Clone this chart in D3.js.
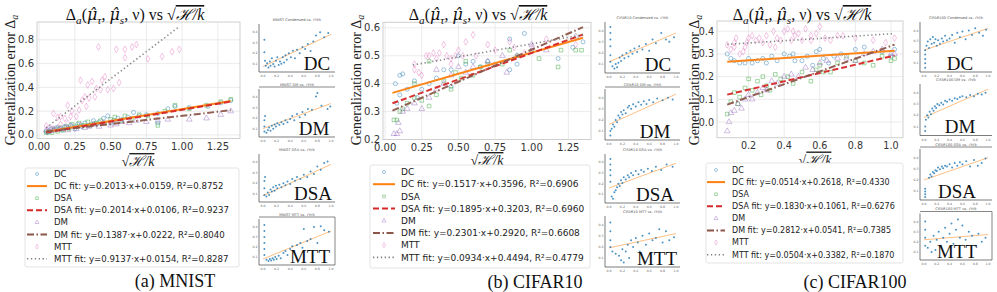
<!DOCTYPE html>
<html><head><meta charset="utf-8">
<script src="https://cdn.jsdelivr.net/npm/d3@7"></script>
<style>body{margin:0;background:#fff}</style>
</head><body><svg id="c" width="997" height="292"></svg>
<script>
// ---------------- DATA ----------------
const seriesNames = ["DC","DSA","DM","MTT"];

// (a) MNIST
const mnistDC = [[0.05,0.03],[0.06,0.02],[0.08,0.05],[0.1,0.04],[0.12,0.06],[0.14,0.05],[0.16,0.04],[0.18,0.07],[0.2,0.06],[0.22,0.08],[0.25,0.05],[0.27,0.09],[0.3,0.07],[0.32,0.1],[0.35,0.08],[0.38,0.12],[0.4,0.09],[0.42,0.11],[0.45,0.14],[0.48,0.16],[0.5,0.1],[0.52,0.12],[0.55,0.14],[0.58,0.13],[0.62,0.15],[0.66,0.19],[0.7,0.16],[0.75,0.17],[0.83,0.1],[0.83,0.18],[0.9,0.22],[0.95,0.24],[1.05,0.23],[1.18,0.24],[1.27,0.27],[1.34,0.29]];
const mnistDSA = [[0.05,0.02],[0.07,0.03],[0.09,0.02],[0.11,0.05],[0.13,0.03],[0.15,0.06],[0.17,0.04],[0.19,0.07],[0.21,0.05],[0.23,0.09],[0.26,0.07],[0.28,0.1],[0.31,0.08],[0.34,0.11],[0.37,0.09],[0.4,0.1],[0.43,0.12],[0.46,0.1],[0.5,0.13],[0.53,0.15],[0.57,0.12],[0.6,0.16],[0.65,0.14],[0.7,0.17],[0.76,0.16],[0.83,0.08],[0.88,0.2],[0.95,0.25],[1.05,0.22],[1.17,0.25],[1.27,0.28],[1.34,0.3]];
const mnistDM = [[0.05,0.04],[0.07,0.03],[0.09,0.05],[0.11,0.04],[0.13,0.06],[0.15,0.05],[0.18,0.06],[0.2,0.04],[0.23,0.07],[0.26,0.05],[0.29,0.08],[0.32,0.06],[0.35,0.07],[0.38,0.09],[0.42,0.07],[0.45,0.1],[0.5,0.08],[0.54,0.09],[0.58,0.11],[0.63,0.1],[0.68,0.12],[0.75,0.11],[0.83,0.12],[0.9,0.13],[1.05,0.13],[1.17,0.14],[1.27,0.17],[1.34,0.2]];
const mnistMTT = [[0.05,0.076],[0.07,0.056],[0.1,0.18],[0.1,0.05],[0.13,0.15],[0.15,0.09],[0.15,0.155],[0.18,0.14],[0.2,0.25],[0.2,0.1],[0.22,0.155],[0.23,0.2],[0.26,0.155],[0.28,0.21],[0.29,0.46],[0.3,0.29],[0.32,0.32],[0.33,0.24],[0.34,0.42],[0.35,0.31],[0.37,0.45],[0.39,0.32],[0.4,0.39],[0.415,0.74],[0.43,0.38],[0.44,0.46],[0.46,0.49],[0.48,0.38],[0.52,0.39],[0.54,0.72],[0.56,0.44],[0.6,0.72],[0.6,0.65],[0.65,0.74],[0.68,0.76],[0.76,0.64],[0.86,0.66],[0.93,0.7],[0.98,0.72]];
const mnistSlope = [0.2013,0.2014,0.1387,0.9137];
const mnistIntercept = [0.0159,0.0106,0.0222,0.0154];
const mnistR2 = [0.8752,0.9237,0.8040,0.8287];
const mnistFitRange = [[0.05,1.34],[0.05,1.34],[0.05,1.34],[0.05,0.98]];
const mnistXTicks = [0.00,0.25,0.50,0.75,1.00,1.25];
const mnistYTicks = [0.0,0.2,0.4,0.6,0.8];

// (b) CIFAR10
const cifar10DC = [[0.07,0.4],[0.08,0.33],[0.1,0.43],[0.1,0.36],[0.12,0.435],[0.15,0.38],[0.2,0.41],[0.22,0.35],[0.25,0.38],[0.3,0.4],[0.35,0.42],[0.4,0.45],[0.45,0.45],[0.45,0.39],[0.5,0.5],[0.55,0.47],[0.6,0.48],[0.65,0.46],[0.7,0.48],[0.75,0.47],[0.85,0.45],[0.85,0.56],[0.9,0.47],[0.95,0.58],[1.0,0.52],[1.18,0.49],[1.28,0.53],[1.35,0.55]];
const cifar10DSA = [[0.06,0.27],[0.08,0.27],[0.1,0.3],[0.12,0.31],[0.15,0.33],[0.2,0.35],[0.2,0.4],[0.25,0.34],[0.3,0.32],[0.3,0.48],[0.35,0.36],[0.4,0.41],[0.45,0.38],[0.48,0.44],[0.52,0.42],[0.55,0.48],[0.6,0.43],[0.65,0.46],[0.7,0.47],[0.8,0.47],[0.85,0.52],[0.9,0.5],[1.05,0.49],[1.18,0.46],[1.2,0.52],[1.3,0.52],[1.34,0.52]];
const cifar10DM = [[0.06,0.22],[0.08,0.22],[0.1,0.23],[0.09,0.26],[0.12,0.3],[0.15,0.31],[0.2,0.33],[0.25,0.31],[0.3,0.35],[0.35,0.38],[0.35,0.45],[0.4,0.4],[0.45,0.43],[0.5,0.46],[0.55,0.44],[0.6,0.46],[0.7,0.48],[0.8,0.5],[0.83,0.44],[0.9,0.5],[1.0,0.54],[1.1,0.52],[1.3,0.57]];
const cifar10MTT = [[0.2,0.45],[0.2,0.47],[0.23,0.44],[0.25,0.43],[0.28,0.5],[0.3,0.5],[0.33,0.51],[0.35,0.49],[0.37,0.51],[0.4,0.54],[0.42,0.5],[0.45,0.47],[0.45,0.49],[0.48,0.5],[0.5,0.52],[0.53,0.5],[0.55,0.55],[0.6,0.575],[0.62,0.5],[0.7,0.54],[0.75,0.52],[0.85,0.55],[0.88,0.53],[0.95,0.51],[1.0,0.53],[1.1,0.56],[1.3,0.54]];
const cifar10Slope = [0.1517,0.1895,0.2301,0.0934];
const cifar10Intercept = [0.3596,0.3203,0.2920,0.4494];
const cifar10R2 = [0.6906,0.6960,0.6608,0.4779];
const cifar10FitRange = [[0.05,1.35],[0.05,1.35],[0.05,1.35],[0.19,1.35]];
const cifar10XTicks = [0.00,0.25,0.50,0.75,1.00,1.25];
const cifar10YTicks = [0.2,0.3,0.4,0.5,0.6];

// (c) CIFAR100
const cifar100DC = [[0.08,0.3],[0.1,0.28],[0.12,0.27],[0.15,0.26],[0.18,0.26],[0.2,0.28],[0.22,0.26],[0.25,0.27],[0.28,0.28],[0.3,0.26],[0.33,0.29],[0.36,0.27],[0.4,0.3],[0.43,0.29],[0.45,0.3],[0.46,0.27],[0.5,0.27],[0.53,0.29],[0.56,0.25],[0.58,0.31],[0.6,0.32],[0.62,0.28],[0.65,0.26],[0.68,0.29],[0.72,0.3],[0.8,0.32],[0.85,0.33],[0.95,0.31],[1.0,0.29],[1.02,0.32]];
const cifar100DSA = [[0.08,0.035],[0.1,0.09],[0.12,0.13],[0.14,0.08],[0.15,0.11],[0.18,0.15],[0.2,0.19],[0.22,0.14],[0.25,0.18],[0.27,0.12],[0.28,0.2],[0.3,0.16],[0.32,0.14],[0.35,0.21],[0.38,0.19],[0.42,0.2],[0.45,0.17],[0.5,0.22],[0.55,0.18],[0.58,0.23],[0.6,0.25],[0.62,0.22],[0.66,0.22],[0.7,0.26],[0.75,0.29],[0.8,0.27],[0.85,0.26],[0.9,0.25],[0.95,0.29],[1.0,0.27],[1.02,0.28]];
const cifar100DM = [[0.08,-0.04],[0.09,0.0],[0.1,0.04],[0.12,0.05],[0.14,0.08],[0.16,0.06],[0.18,0.1],[0.2,0.12],[0.22,0.1],[0.25,0.13],[0.28,0.15],[0.3,0.14],[0.33,0.18],[0.36,0.17],[0.4,0.2],[0.44,0.21],[0.48,0.2],[0.52,0.24],[0.56,0.23],[0.6,0.26],[0.64,0.27],[0.7,0.28],[0.75,0.28],[0.8,0.27],[0.85,0.3],[0.9,0.31],[0.95,0.32],[1.0,0.3],[1.02,0.3]];
const cifar100MTT = [[0.08,0.34],[0.1,0.32],[0.12,0.33],[0.12,0.35],[0.13,0.37],[0.15,0.3],[0.17,0.31],[0.18,0.33],[0.19,0.35],[0.2,0.37],[0.22,0.38],[0.24,0.36],[0.26,0.37],[0.28,0.35],[0.3,0.38],[0.32,0.34],[0.34,0.4],[0.35,0.33],[0.36,0.37],[0.38,0.36],[0.4,0.4],[0.42,0.41],[0.44,0.36],[0.45,0.4],[0.46,0.38],[0.48,0.39],[0.5,0.36],[0.52,0.41],[0.55,0.38],[0.55,0.36],[0.58,0.39],[0.6,0.42],[0.63,0.37],[0.66,0.36],[0.7,0.38],[0.73,0.38],[0.8,0.37],[0.9,0.36],[0.97,0.35],[1.02,0.37]];
const cifar100Slope = [0.0514,0.1830,0.2812,0.0504];
const cifar100Intercept = [0.2618,0.1061,0.0541,0.3382];
const cifar100R2 = [0.4330,0.6276,0.7385,0.1870];
const cifar100FitRange = [[0.08,1.02],[0.08,1.02],[0.08,1.02],[0.08,1.02]];
const cifar100XTicks = [0.2,0.4,0.6,0.8,1.0];
const cifar100YTicks = [0.0,0.1,0.2,0.3,0.4];

// small side plots (normalised values), with fitted-line end values
const sideLabels = ["DC","DM","DSA","MTT"];
const sideTitles = ["Condensed vs. \u221AH/k","DM vs. \u221AH/k","DSA vs. \u221AH/k","MTT vs. \u221AH/k"];
const aSideDC = [[0.02,0.72],[0.02,0.42],[0.03,0.22],[0.04,0.1],[0.06,0.16],[0.08,0.06],[0.1,0.2],[0.11,0.1],[0.13,0.28],[0.15,0.14],[0.17,0.08],[0.19,0.22],[0.21,0.3],[0.23,0.12],[0.25,0.2],[0.27,0.15],[0.29,0.3],[0.31,0.18],[0.33,0.35],[0.35,0.24],[0.38,0.4],[0.41,0.3],[0.44,0.46],[0.47,0.28],[0.5,0.48],[0.54,0.4],[0.58,0.55],[0.62,0.5],[0.66,0.62],[0.7,0.45],[0.74,0.68],[0.78,0.82],[0.84,0.9],[0.9,0.78],[0.96,0.88]];
const aSideDM = [[0.02,0.08],[0.02,0.2],[0.02,0.35],[0.03,0.45],[0.05,0.05],[0.07,0.12],[0.09,0.18],[0.11,0.1],[0.13,0.22],[0.15,0.15],[0.17,0.25],[0.19,0.2],[0.21,0.28],[0.24,0.24],[0.27,0.3],[0.3,0.26],[0.33,0.35],[0.36,0.3],[0.4,0.38],[0.43,0.45],[0.46,0.35],[0.5,0.5],[0.54,0.42],[0.58,0.55],[0.62,0.48],[0.66,0.62],[0.72,0.6],[0.78,0.92],[0.8,1.0],[0.86,0.7],[0.95,0.62],[0.99,0.68]];
const aSideDSA = [[0.02,0.12],[0.02,0.28],[0.02,0.45],[0.03,0.55],[0.05,0.08],[0.07,0.18],[0.09,0.12],[0.11,0.25],[0.13,0.2],[0.15,0.3],[0.17,0.22],[0.19,0.34],[0.21,0.28],[0.24,0.36],[0.27,0.3],[0.3,0.4],[0.33,0.35],[0.36,0.44],[0.4,0.38],[0.43,0.5],[0.47,0.46],[0.5,0.55],[0.55,0.5],[0.6,0.6],[0.65,0.55],[0.7,0.68],[0.75,0.62],[0.8,0.8],[0.85,0.72],[0.9,0.88],[0.95,0.92]];
const aSideMTT = [[0.02,0.95],[0.02,0.8],[0.02,0.65],[0.02,0.5],[0.02,0.35],[0.02,0.2],[0.05,0.08],[0.08,0.05],[0.1,0.1],[0.12,0.06],[0.14,0.12],[0.16,0.08],[0.18,0.15],[0.2,0.1],[0.23,0.18],[0.26,0.12],[0.3,0.25],[0.33,0.3],[0.36,0.2],[0.4,0.35],[0.43,0.42],[0.46,0.3],[0.5,0.45],[0.55,0.5],[0.58,0.38],[0.6,0.85],[0.65,0.55],[0.7,0.6],[0.75,0.9],[0.8,0.5],[0.85,0.92],[0.9,0.82],[0.97,0.78]];
const bSideDC = [[0.02,0.98],[0.02,0.85],[0.02,0.7],[0.02,0.55],[0.02,0.35],[0.02,0.2],[0.05,0.1],[0.08,0.05],[0.1,0.15],[0.12,0.08],[0.14,0.18],[0.16,0.3],[0.18,0.22],[0.2,0.35],[0.23,0.28],[0.26,0.4],[0.29,0.32],[0.32,0.45],[0.35,0.38],[0.38,0.5],[0.42,0.42],[0.45,0.55],[0.5,0.48],[0.55,0.6],[0.6,0.45],[0.65,0.7],[0.7,0.62],[0.78,0.85],[0.85,0.7],[0.9,0.65],[0.97,0.75]];
const bSideDM = [[0.02,0.05],[0.02,0.15],[0.04,0.2],[0.06,0.3],[0.08,0.25],[0.1,0.4],[0.12,0.35],[0.14,0.5],[0.16,0.45],[0.18,0.58],[0.2,0.52],[0.22,0.62],[0.25,0.55],[0.28,0.68],[0.3,0.72],[0.33,0.65],[0.36,0.75],[0.4,0.7],[0.44,0.8],[0.48,0.74],[0.52,0.82],[0.56,0.76],[0.6,0.85],[0.66,0.8],[0.72,0.88],[0.8,0.84],[0.88,0.9],[0.95,0.86]];
const bSideDSA = [[0.02,0.98],[0.02,0.85],[0.02,0.72],[0.02,0.6],[0.02,0.45],[0.04,0.1],[0.06,0.05],[0.08,0.2],[0.1,0.25],[0.12,0.32],[0.14,0.4],[0.16,0.35],[0.18,0.48],[0.2,0.42],[0.22,0.55],[0.25,0.5],[0.28,0.6],[0.3,0.55],[0.33,0.65],[0.36,0.6],[0.4,0.7],[0.44,0.62],[0.48,0.72],[0.52,0.68],[0.58,0.75],[0.64,0.7],[0.7,0.8],[0.78,0.72],[0.86,0.85],[0.95,0.8]];
const bSideMTT = [[0.02,0.95],[0.02,0.75],[0.02,0.55],[0.02,0.4],[0.05,0.3],[0.1,0.25],[0.15,0.2],[0.18,0.1],[0.2,0.35],[0.22,0.05],[0.25,0.3],[0.28,0.45],[0.3,0.15],[0.33,0.55],[0.36,0.4],[0.4,0.6],[0.43,0.5],[0.46,0.3],[0.5,0.65],[0.55,0.45],[0.6,0.7],[0.65,0.55],[0.7,0.6],[0.75,0.8],[0.8,0.5],[0.85,0.75],[0.9,0.55],[0.97,0.62]];
const cSideDC = [[0.02,0.05],[0.02,0.15],[0.02,0.25],[0.02,0.35],[0.02,0.45],[0.04,0.55],[0.06,0.65],[0.08,0.5],[0.1,0.7],[0.12,0.6],[0.14,0.75],[0.16,0.62],[0.18,0.7],[0.2,0.55],[0.22,0.68],[0.25,0.6],[0.28,0.72],[0.3,0.65],[0.33,0.78],[0.36,0.68],[0.4,0.72],[0.44,0.8],[0.48,0.62],[0.52,0.85],[0.56,0.75],[0.6,0.88],[0.65,0.7],[0.7,0.9],[0.75,0.8],[0.8,0.95],[0.86,0.85],[0.92,0.78],[0.97,0.92]];
const cSideDM = [[0.02,0.05],[0.02,0.15],[0.03,0.3],[0.05,0.4],[0.07,0.35],[0.09,0.48],[0.11,0.42],[0.13,0.55],[0.15,0.5],[0.17,0.6],[0.19,0.56],[0.21,0.65],[0.24,0.62],[0.27,0.68],[0.3,0.64],[0.33,0.72],[0.36,0.7],[0.4,0.75],[0.44,0.72],[0.48,0.78],[0.52,0.76],[0.56,0.8],[0.6,0.82],[0.66,0.8],[0.72,0.85],[0.78,0.82],[0.84,0.88],[0.9,0.86],[0.96,0.9]];
const cSideDSA = [[0.02,0.02],[0.02,0.08],[0.02,0.14],[0.02,0.2],[0.08,0.45],[0.1,0.52],[0.12,0.48],[0.14,0.58],[0.16,0.55],[0.18,0.62],[0.2,0.6],[0.22,0.68],[0.25,0.64],[0.28,0.7],[0.3,0.66],[0.33,0.72],[0.36,0.7],[0.4,0.75],[0.44,0.68],[0.48,0.78],[0.52,0.72],[0.56,0.8],[0.6,0.75],[0.66,0.82],[0.72,0.7],[0.78,0.85],[0.84,0.72],[0.9,0.78],[0.96,0.88]];
const cSideMTT = [[0.02,0.9],[0.02,0.7],[0.02,0.5],[0.02,0.3],[0.06,0.25],[0.1,0.4],[0.12,0.15],[0.15,0.55],[0.18,0.2],[0.2,0.45],[0.23,0.65],[0.26,0.3],[0.3,0.5],[0.33,0.75],[0.36,0.4],[0.4,0.6],[0.43,0.85],[0.46,0.35],[0.5,0.7],[0.53,0.95],[0.56,0.5],[0.6,0.8],[0.65,0.45],[0.7,0.65],[0.75,0.55],[0.8,0.3],[0.85,0.6],[0.9,0.4],[0.96,0.5]];
const aSideLine = [[0.08,0.85],[0.15,0.75],[0.1,0.85],[0.1,0.8]];
const bSideLine = [[0.2,0.85],[0.3,0.98],[0.3,0.88],[0.38,0.7]];
const cSideLine = [[0.45,0.95],[0.35,0.98],[0.4,0.9],[0.45,0.58]];
const sideXTicks = ["0.0","0.2","0.4","0.6","0.8","1.0"];
const sideYTicks = ["0.1","0.2","0.3","0.4"];

// ---------------- STYLE / LAYOUT ----------------
const serif = "'Liberation Serif','DejaVu Serif',serif";
const sans = "'DejaVu Sans',sans-serif";
const markerColors = ["#1f77b4","#2ca02c","#9467bd","#e377c2"];
const fitColors = ["#ff7f0e","#d62728","#8c564b","#7f7f7f"];
const fitDash = [null,"6,3","7,2.5,1.5,2.5","1.3,2.6"];
const fitWidth = [2,2,2,1.6];
const symbols = [d3.symbolCircle,d3.symbolSquare,d3.symbolTriangle,d3.symbolDiamond];

const svg = d3.select("#c");
svg.append("rect").attr("width",997).attr("height",292).attr("fill","#fff");

const panels = [
  {data:[mnistDC,mnistDSA,mnistDM,mnistMTT], slope:mnistSlope, icpt:mnistIntercept, r2:mnistR2, fr:mnistFitRange,
   xt:mnistXTicks, yt:mnistYTicks, xf:d3.format(".2f"), yf:d3.format(".1f"),
   xDom:[-0.0145,1.4045], yDom:[-0.03,0.95], L:37, R:240, T:22, B:138.5, tick:10,
   title:[135,20], ylab:[11,80], xlab:[138,166],
   leg:{x0:25,x1:239,y0:168,y1:267,h0:27,h1:47,tx:54,r0:174,step:12.1,fs:8.6},
   caption:["(a) MNIST",175,287],
   side:{x0:259,x1:335, rows:[[22,72,317,"lb"],[87,137,314,"lbt"],[152,202,313,"lb"],[217,265,310,"full"]],
         data:[aSideDC,aSideDM,aSideDSA,aSideMTT], line:aSideLine, name:"MNIST"}},
  {data:[cifar10DC,cifar10DSA,cifar10DM,cifar10MTT], slope:cifar10Slope, icpt:cifar10Intercept, r2:cifar10R2, fr:cifar10FitRange,
   xt:cifar10XTicks, yt:cifar10YTicks, xf:d3.format(".2f"), yf:d3.format(".1f"),
   xDom:[-0.0145,1.4045], yDom:[0.2,0.62], L:383, R:591, T:22.3, B:139.5, tick:10,
   title:[478,20], ylab:[357,80], xlab:[487,165],
   leg:{x0:370,x1:590,y0:165,y1:268,h0:373,h1:395,tx:401,r0:172,step:12.2,fs:9},
   caption:["(b) CIFAR10",535,288],
   side:{x0:605,x1:680, rows:[[20,73,658,"lb"],[87,140,655,"lbt"],[152,203,655,"lb"],[214,267,657,"lb"]],
         data:[bSideDC,bSideDM,bSideDSA,bSideMTT], line:bSideLine, name:"CIFAR10"}},
  {data:[cifar100DC,cifar100DSA,cifar100DM,cifar100MTT], slope:cifar100Slope, icpt:cifar100Intercept, r2:cifar100R2, fr:cifar100FitRange,
   xt:cifar100XTicks, yt:cifar100YTicks, xf:d3.format(".1f"), yf:d3.format(".1f"),
   xDom:[0.0225,1.0675], yDom:[-0.069,0.445], L:717, R:903, T:21, B:137.7, tick:9.6,
   title:[802,20], ylab:[695,80], xlab:[815,164.5],
   leg:{x0:706,x1:903,y0:163,y1:263,h0:707,h1:725,tx:732,r0:170,step:12.1,fs:8},
   caption:["(c) CIFAR100",855,288],
   side:{x0:920,x1:992, rows:[[20,72,960,"lb"],[82,135.5,960,"lb"],[147,200,957,"lbt"],[211.5,260,957,"full"]],
         data:[cSideDC,cSideDM,cSideDSA,cSideMTT], line:cSideLine, name:"CIFAR100"}}
];

function addRadical(t){
  t.append("tspan").text("\u221A");
  t.append("tspan").attr("font-style","italic").attr("text-decoration","overline").text("\u210B/k");
}
function addMuHat(t){
  t.append("tspan").attr("font-family","'DejaVu Serif',serif").attr("font-style","italic").text("\u03BC\u0302");
}

panels.forEach(p=>{
  const g = svg.append("g");
  const x = d3.scaleLinear().domain(p.xDom).range([p.L,p.R]);
  const y = d3.scaleLinear().domain(p.yDom).range([p.B,p.T]);
  // grid
  g.selectAll(".gx").data(p.xt).join("line").attr("x1",d=>x(d)).attr("x2",d=>x(d)).attr("y1",p.T).attr("y2",p.B)
    .attr("stroke","#e6e6e6").attr("stroke-width",0.8);
  g.selectAll(".gy").data(p.yt).join("line").attr("y1",d=>y(d)).attr("y2",d=>y(d)).attr("x1",p.L).attr("x2",p.R)
    .attr("stroke","#e6e6e6").attr("stroke-width",0.8);
  g.append("rect").attr("x",p.L).attr("y",p.T).attr("width",p.R-p.L).attr("height",p.B-p.T)
    .attr("fill","none").attr("stroke","#cfcfcf").attr("stroke-width",1);
  // tick labels
  g.selectAll(".tx").data(p.xt).join("text").attr("x",d=>x(d)).attr("y",p.B+11.5).attr("text-anchor","middle")
    .attr("font-family",sans).attr("font-size",p.tick).attr("fill","#333").text(p.xf);
  g.selectAll(".ty").data(p.yt).join("text").attr("x",p.L-3).attr("y",d=>y(d)+3.5).attr("text-anchor","end")
    .attr("font-family",sans).attr("font-size",p.tick).attr("fill","#333").text(p.yf);
  // points
  const clip = "clip"+p.L;
  svg.append("clipPath").attr("id",clip).append("rect").attr("x",p.L).attr("y",p.T).attr("width",p.R-p.L).attr("height",p.B-p.T);
  const pg = g.append("g").attr("clip-path",`url(#${clip})`);
  p.data.forEach((arr,i)=>{
    pg.append("g").selectAll("path").data(arr).join("path")
      .attr("transform",d=>`translate(${x(d[0])},${y(d[1])})`)
      .attr("d",d3.symbol().type(symbols[i]).size(i===2?14:13))
      .attr("fill","none").attr("stroke",markerColors[i]).attr("stroke-width",0.8).attr("opacity",0.55);
  });
  // fit lines
  const line = d3.line().x(d=>x(d[0])).y(d=>y(d[1]));
  p.slope.forEach((s,i)=>{
    const pts = p.fr[i].map(v=>[v, s*v+p.icpt[i]]);
    pg.append("path").attr("d",line(pts)).attr("fill","none").attr("stroke",fitColors[i])
      .attr("stroke-width",fitWidth[i]).attr("stroke-dasharray",fitDash[i]).attr("opacity",0.95);
  });
  // title
  const fs=16;
  const t = g.append("text").attr("x",p.title[0]).attr("y",p.title[1]).attr("text-anchor","middle")
    .attr("font-family",serif).attr("font-size",fs).attr("fill","#111");
  t.append("tspan").text("\u0394");
  t.append("tspan").attr("font-style","italic").attr("font-size",fs*0.7).attr("dy",4).text("a");
  t.append("tspan").attr("dy",-4).text("(");
  addMuHat(t);
  t.append("tspan").attr("font-style","italic").attr("font-size",fs*0.7).attr("dy",4).text("\u03C4");
  t.append("tspan").attr("dy",-4).text(", ");
  addMuHat(t);
  t.append("tspan").attr("font-style","italic").attr("font-size",fs*0.7).attr("dy",4).text("s");
  t.append("tspan").attr("dy",-4).text(", \u03BD) vs ");
  addRadical(t);
  // y label
  const yl = g.append("text").attr("transform",`translate(${p.ylab[0]+4},${p.ylab[1]}) rotate(-90)`).attr("text-anchor","middle")
    .attr("font-family",serif).attr("font-size",14).attr("fill","#222");
  yl.append("tspan").text("Generalization error \u0394");
  yl.append("tspan").attr("font-style","italic").attr("font-size",10).attr("dy",3).text("a");
  // x label
  const xl = g.append("text").attr("x",p.xlab[0]).attr("y",p.xlab[1]).attr("text-anchor","middle")
    .attr("font-family",serif).attr("font-size",14).attr("fill","#222");
  addRadical(xl);
  // legend
  const L = p.leg;
  g.append("rect").attr("x",L.x0).attr("y",L.y0).attr("width",L.x1-L.x0).attr("height",L.y1-L.y0).attr("rx",2)
    .attr("fill","#fff").attr("stroke","#dcdcdc").attr("stroke-width",0.8);
  seriesNames.forEach((nm,i)=>{
    const ym = L.r0 + L.step*(2*i), yf = L.r0 + L.step*(2*i+1);
    g.append("path").attr("transform",`translate(${(L.h0+L.h1)/2},${ym})`).attr("d",d3.symbol().type(symbols[i]).size(7))
      .attr("fill","none").attr("stroke",markerColors[i]).attr("stroke-width",0.7).attr("opacity",0.6);
    g.append("text").attr("x",L.tx).attr("y",ym+L.fs*0.36).attr("font-family",sans).attr("font-size",L.fs).attr("fill","#222").text(nm);
    g.append("line").attr("x1",L.h0).attr("x2",L.h1).attr("y1",yf).attr("y2",yf).attr("stroke",fitColors[i])
      .attr("stroke-width",fitWidth[i]).attr("stroke-dasharray",fitDash[i]);
    g.append("text").attr("x",L.tx).attr("y",yf+L.fs*0.36).attr("font-family",sans).attr("font-size",L.fs).attr("fill","#222")
      .text(`${nm} fit: y=${p.slope[i].toFixed(4)}\u00B7x+${p.icpt[i].toFixed(4)}, R\u00B2=${p.r2[i].toFixed(4)}`);
  });
  // caption
  g.append("text").attr("x",p.caption[1]).attr("y",p.caption[2]).attr("text-anchor","middle").attr("font-family",serif)
    .attr("font-size",18).attr("fill","#111").text(p.caption[0]);
  // side plots
  const S = p.side;
  S.rows.forEach((r,k)=>{
    const [t0,b0,lx,box] = r;
    const sx = d3.scaleLinear().domain([-0.03,1.03]).range([S.x0+2,S.x1-2]);
    const sy = d3.scaleLinear().domain([-0.05,1.05]).range([b0,t0+4]);
    const sg = svg.append("g");
    sg.append("line").attr("x1",S.x0).attr("x2",S.x0).attr("y1",t0+2).attr("y2",b0).attr("stroke","#444").attr("stroke-width",0.7);
    sg.append("line").attr("x1",S.x0).attr("x2",S.x1).attr("y1",b0).attr("y2",b0).attr("stroke","#444").attr("stroke-width",0.7);
    if(box!=="lb") sg.append("line").attr("x1",S.x0).attr("x2",S.x1).attr("y1",t0).attr("y2",t0).attr("stroke","#555").attr("stroke-width",0.7);
    if(box==="full") sg.append("line").attr("x1",S.x1).attr("x2",S.x1).attr("y1",t0).attr("y2",b0).attr("stroke","#555").attr("stroke-width",0.7);
    sg.append("text").attr("x",(S.x0+S.x1)/2).attr("y",t0-1.5).attr("text-anchor","middle").attr("font-family",sans)
      .attr("font-size",3.6).attr("fill","#555").text(`${S.name} ${sideTitles[k]}`);
    sg.selectAll(".sxt").data(sideXTicks).join("text").attr("x",(d,j)=>sx(j/5)).attr("y",b0+5).attr("text-anchor","middle")
      .attr("font-family",sans).attr("font-size",3.2).attr("fill","#666").text(d=>d);
    sg.selectAll(".syt").data(sideYTicks).join("text").attr("x",S.x0-1.5).attr("y",(d,j)=>sy(0.15+j*0.25)+1).attr("text-anchor","end")
      .attr("font-family",sans).attr("font-size",3.2).attr("fill","#666").text(d=>d);
    const ln = S.line[k];
    sg.append("line").attr("x1",sx(0)).attr("x2",sx(1)).attr("y1",sy(ln[0])).attr("y2",sy(ln[1]))
      .attr("stroke","#ffb570").attr("stroke-width",1).attr("opacity",0.85);
    sg.selectAll("circle").data(S.data[k]).join("circle").attr("cx",d=>sx(d[0])).attr("cy",d=>sy(d[1])).attr("r",1)
      .attr("fill","#1f77b4").attr("opacity",0.8);
    sg.append("text").attr("x",lx).attr("y",b0-2.5).attr("text-anchor","middle").attr("font-family",serif)
      .attr("font-size",19).attr("fill","#111").text(sideLabels[k]);
  });
});
</script></body></html>
